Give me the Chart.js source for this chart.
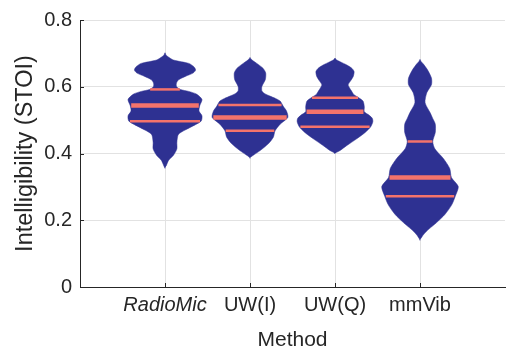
<!DOCTYPE html>
<html>
<head>
<meta charset="utf-8">
<script src="https://cdn.jsdelivr.net/npm/chart.js@4.4.1/dist/chart.umd.min.js"></script>
<style>
  html, body { margin: 0; padding: 0; background: #fff; }
  #wrap { width: 509px; height: 356px; }
</style>
</head>
<body>
<div id="wrap"><canvas id="violin" width="509" height="356"></canvas></div>
<script>
'use strict';

// 手法（横軸）
const methods = ['RadioMic', 'UW(I)', 'UW(Q)', 'mmVib'];
const yTicks = [0, 0.2, 0.4, 0.6, 0.8];

// 各手法の分布の輪郭：STOIの値と、その高さでの片側の幅（カテゴリ間隔=1）
const radiomicLevel = [0.355, 0.362, 0.380, 0.395, 0.414, 0.434, 0.458, 0.478, 0.497, 0.513, 0.527, 0.544, 0.562, 0.578, 0.586, 0.592, 0.601, 0.611, 0.621, 0.631, 0.641, 0.650, 0.660, 0.670, 0.680, 0.690, 0.695, 0.702];
const radiomicWidth = [0, 0.012, 0.044, 0.10, 0.14, 0.14, 0.16, 0.295, 0.425, 0.435, 0.40, 0.41, 0.435, 0.37, 0.28, 0.18, 0.135, 0.135, 0.16, 0.24, 0.33, 0.36, 0.34, 0.28, 0.10, 0.035, 0.012, 0];

const uwiLevel = [0.385, 0.390, 0.395, 0.409, 0.429, 0.449, 0.468, 0.488, 0.508, 0.527, 0.542, 0.557, 0.565, 0.572, 0.580, 0.587, 0.601, 0.621, 0.641, 0.655, 0.670, 0.678, 0.683, 0.688];
const uwiWidth = [0, 0.012, 0.04, 0.12, 0.215, 0.275, 0.295, 0.355, 0.445, 0.43, 0.39, 0.355, 0.30, 0.235, 0.17, 0.14, 0.14, 0.18, 0.185, 0.155, 0.08, 0.035, 0.012, 0];

const uwqLevel = [0.399, 0.403, 0.409, 0.424, 0.444, 0.463, 0.480, 0.495, 0.505, 0.515, 0.525, 0.540, 0.557, 0.567, 0.577, 0.587, 0.597, 0.606, 0.620, 0.631, 0.645, 0.655, 0.665, 0.675, 0.681, 0.686];
const uwqWidth = [0, 0.015, 0.06, 0.14, 0.255, 0.355, 0.42, 0.445, 0.44, 0.40, 0.345, 0.345, 0.33, 0.28, 0.22, 0.195, 0.17, 0.155, 0.19, 0.215, 0.225, 0.2, 0.14, 0.06, 0.015, 0];

const mmvibLevel = [0.139, 0.145, 0.155, 0.168, 0.193, 0.218, 0.247, 0.272, 0.301, 0.328, 0.355, 0.385, 0.414, 0.436, 0.463, 0.488, 0.505, 0.522, 0.552, 0.582, 0.606, 0.626, 0.650, 0.668, 0.676, 0.682];
const mmvibWidth = [0, 0.01, 0.035, 0.08, 0.195, 0.295, 0.375, 0.415, 0.45, 0.37, 0.35, 0.275, 0.175, 0.15, 0.18, 0.18, 0.15, 0.12, 0.06, 0.08, 0.135, 0.135, 0.09, 0.04, 0.012, 0];

// 四分位と中央値
const q1 = [0.497, 0.468, 0.480, 0.272];
const medians = [0.544, 0.508, 0.525, 0.328];
const q3 = [0.592, 0.545, 0.567, 0.436];

const levels = [radiomicLevel, uwiLevel, uwqLevel, mmvibLevel];
const widths = [radiomicWidth, uwiWidth, uwqWidth, mmvibWidth];

const violinColor = '#2e3192';
const lineColor = '#f4736b';
const textColor = '#262626';
const font = "'Liberation Sans', Arial, sans-serif";

// 輪郭の幅を線形補間で求める（四分位線の長さ用）
function widthAt(lv, wd, v) {
  for (let k = 1; k < lv.length; k++) {
    if (v <= lv[k]) {
      const t = (v - lv[k - 1]) / (lv[k] - lv[k - 1]);
      return wd[k - 1] + t * (wd[k] - wd[k - 1]);
    }
  }
  return 0;
}

const datasets = [];

// バイオリン本体：左側を下から上へ、右側を上から下へ回って閉じた形にする
methods.forEach((m, i) => {
  const c = i + 1;
  const lv = levels[i], wd = widths[i];
  const pts = [];
  for (let k = 0; k < lv.length; k++) pts.push({x: c - wd[k], y: lv[k]});
  for (let k = lv.length - 2; k >= 1; k--) pts.push({x: c + wd[k], y: lv[k]});
  datasets.push({
    label: m,
    data: pts,
    order: 2,
    backgroundColor: violinColor,
    borderColor: violinColor,
    borderWidth: 0.5,
    pointRadius: 0,
    tension: 0.25,
    fill: 'shape'
  });
});

// 四分位線（中央値は太く）
const stats = [[q1, 2.5], [medians, 4.5], [q3, 2.5]];
methods.forEach((m, i) => {
  const c = i + 1;
  for (const [arr, lw] of stats) {
    const w = widthAt(levels[i], widths[i], arr[i]) * 0.97;
    datasets.push({
      label: m + ' stat',
      data: [{x: c - w, y: arr[i]}, {x: c + w, y: arr[i]}],
      order: 1,
      borderColor: lineColor,
      borderWidth: lw,
      borderCapStyle: 'butt',
      pointRadius: 0,
      tension: 0,
      fill: false
    });
  }
});

// 内向きの目盛り線
const innerTicks = {
  id: 'innerTicks',
  afterDraw(chart) {
    const {ctx, chartArea, scales: {x, y}} = chart;
    ctx.save();
    ctx.strokeStyle = textColor;
    ctx.lineWidth = 1;
    ctx.beginPath();
    methods.forEach((m, i) => {
      const px = Math.round(x.getPixelForValue(i + 1)) + 0.5;
      ctx.moveTo(px, chartArea.bottom);
      ctx.lineTo(px, chartArea.bottom - 4);
    });
    yTicks.forEach(v => {
      const py = Math.round(y.getPixelForValue(v)) + 0.5;
      ctx.moveTo(chartArea.left, py);
      ctx.lineTo(chartArea.left + 4, py);
    });
    ctx.stroke();
    ctx.restore();
  }
};

new Chart(document.getElementById('violin'), {
  type: 'line',
  data: {datasets: datasets},
  options: {
    responsive: false,
    animation: false,
    events: [],
    layout: {padding: {top: 16, right: 4, left: 0, bottom: 0}},
    plugins: {legend: {display: false}, tooltip: {enabled: false}},
    scales: {
      x: {
        type: 'linear',
        min: 0,
        max: 5,
        afterBuildTicks: (s) => { s.ticks = methods.map((m, i) => ({value: i + 1})); },
        afterFit: (s) => { s.height = 69; },
        grid: {color: '#e2e2e2', drawTicks: false},
        border: {color: textColor, width: 1},
        ticks: {
          autoSkip: false,
          maxRotation: 0,
          padding: 6,
          color: textColor,
          callback: (v) => methods[v - 1],
          font: (ctx) => ({family: font, size: 20, style: ctx.index === 0 ? 'italic' : 'normal'})
        },
        title: {display: true, text: 'Method', color: textColor, font: {family: font, size: 21}, padding: {top: 0, bottom: 3}}
      },
      y: {
        min: 0,
        max: 0.8,
        afterBuildTicks: (s) => { s.ticks = yTicks.map(v => ({value: v})); },
        afterFit: (s) => { s.width = 80; },
        grid: {color: '#e2e2e2', drawTicks: false},
        border: {color: textColor, width: 1},
        ticks: {
          padding: 8,
          color: textColor,
          font: {family: font, size: 20},
          callback: (v) => String(Math.round(v * 10) / 10)
        },
        title: {display: true, text: 'Intelligibility (STOI)', color: textColor, font: {family: font, size: 23.5}, padding: {top: 11, bottom: 0}}
      }
    }
  },
  plugins: [innerTicks]
});
</script>
</body>
</html>
